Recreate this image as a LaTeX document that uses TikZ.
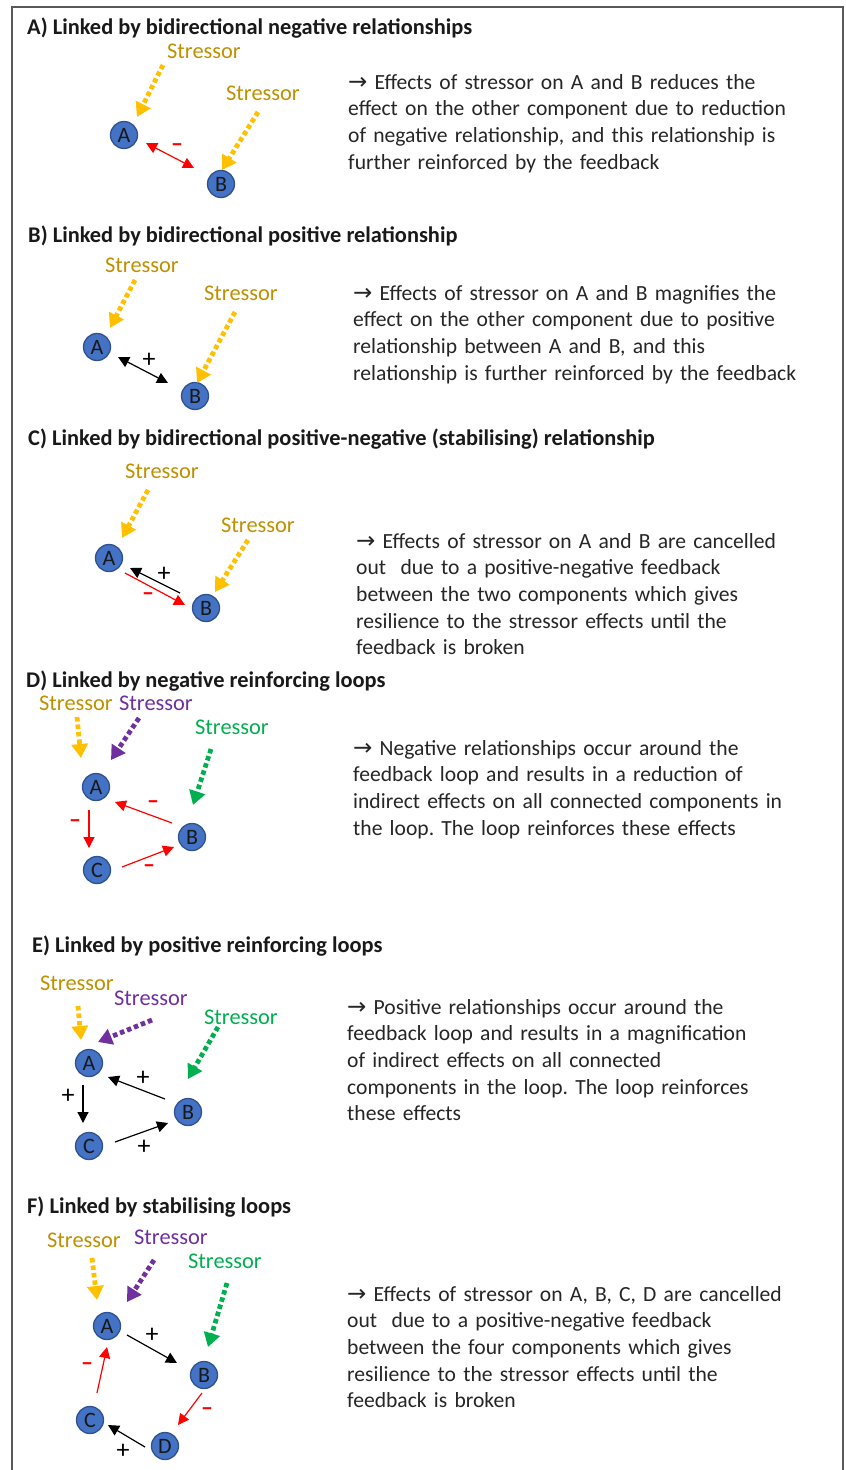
\documentclass[tikz,border=0pt]{standalone}
\usepackage{fontspec}
\setmainfont{Carlito}
\newfontfamily\arrowfont{DejaVu Sans}
\usetikzlibrary{arrows.meta}
\frenchspacing
\definecolor{nodefill}{HTML}{4472C4}
\definecolor{nodeedge}{HTML}{2F528F}
\definecolor{stresstext}{HTML}{BF9000}
\definecolor{stressarrow}{HTML}{FFC000}
\definecolor{purp}{HTML}{7030A0}
\definecolor{grn}{HTML}{00B050}
\definecolor{redc}{HTML}{FF0000}
\definecolor{framegray}{HTML}{595959}
\definecolor{desctext}{HTML}{262626}
\newcommand{\rarr}{{\arrowfont\fontsize{23}{26.7}\selectfont →}}
\tikzset{
  comp/.style={circle, fill=nodefill, draw=nodeedge, line width=1.3pt, minimum size=27pt, inner sep=0pt, font=\fontsize{22}{22}\selectfont, text=black!90},
  head/.style={anchor=base west, inner sep=0pt, font=\fontsize{22.4}{26}\selectfont\bfseries, text=black!90},
  stlab/.style={anchor=base, inner sep=0pt, font=\fontsize{22.4}{26}\selectfont},
  desc/.style={anchor=base west, inner sep=0pt, align=left, text width=490pt, font=\fontsize{21.6}{26.7}\selectfont, text=desctext},
  sarrow/.style={line width=4.8pt, dash pattern=on 4.5pt off 3pt, -{Triangle[length=14pt,width=16pt]}},
  rel/.style={line width=1.2pt, -{Triangle[length=11pt,width=11pt]}},
  relboth/.style={line width=1.2pt, {Triangle[length=11pt,width=11pt]}-{Triangle[length=11pt,width=11pt]}},
  sgn/.style={inner sep=0pt, font=\fontsize{26}{26}\selectfont},
  neg/.style={inner sep=0pt, text=redc, font=\fontsize{24}{24}\selectfont\bfseries},
}
\begin{document}
\begin{tikzpicture}[x=1pt,y=-1pt]
\useasboundingbox (0,0) rectangle (846,1470);
\fill[white] (0,0) rectangle (846,1470);
\draw[framegray, line width=2pt] (12,1480) -- (12,7) -- (843,7) -- (843,1480);

% ---------------- A ----------------
\node[head] (hA) at (27,34) {A) Linked by bidirectional negative relationships};
\node[stlab, text=stresstext] (sA1) at (204,58) {Stressor};
\node[stlab, text=stresstext] (sA2) at (263,100) {Stressor};
\node[comp] (aA) at (124,135) {A};
\node[comp] (aB) at (221,184) {B};
\draw[sarrow, stressarrow] ([shift={(-41,7)}]sA1.base) -- ([shift={(13,-18)}]aA.center);
\draw[sarrow, stressarrow] ([shift={(-5,12)}]sA2.base) -- ([shift={(1,-14)}]aB.center);
\draw[relboth, redc] ([shift={(22,8)}]aA.center) -- ([shift={(-27,-16)}]aB.center);
\node[neg] (nA) at (177,148) {–};
\node[desc] (dA) at (348,89) {\rarr{} Effects of stressor on A and B reduces the\\effect on the other component due to reduction\\of negative relationship, and this relationship is\\further reinforced by the feedback};

% ---------------- B ----------------
\node[head] (hB) at (28,242) {B) Linked by bidirectional positive relationship};
\node[stlab, text=stresstext] (sB1) at (142,272) {Stressor};
\node[stlab, text=stresstext] (sB2) at (241,300) {Stressor};
\node[comp] (bA) at (97,347) {A};
\node[comp] (bB) at (195,396) {B};
\draw[sarrow, stressarrow] ([shift={(-7,8)}]sB1.base) -- ([shift={(13,-19)}]bA.center);
\draw[sarrow, stressarrow] ([shift={(-6,12)}]sB2.base) -- ([shift={(2,-13)}]bB.center);
\draw[relboth, black] ([shift={(21,10)}]bA.center) -- ([shift={(-27,-13)}]bB.center);
\node[sgn] (pB) at (149,360) {+};
\node[desc] (dB) at (353,300) {\rarr{} Effects of stressor on A and B magnifies the\\effect on the other component due to positive\\relationship between A and B, and this\\relationship is further reinforced by the feedback};

% ---------------- C ----------------
\node[head] (hC) at (28,445) {C) Linked by bidirectional positive-negative (stabilising) relationship};
\node[stlab, text=stresstext] (sC1) at (162,478) {Stressor};
\node[stlab, text=stresstext] (sC2) at (258,532) {Stressor};
\node[comp] (cA) at (109,558) {A};
\node[comp] (cB) at (206,608) {B};
\draw[sarrow, stressarrow] ([shift={(-14,12)}]sC1.base) -- ([shift={(13,-20)}]cA.center);
\draw[sarrow, stressarrow] ([shift={(-10,8)}]sC2.base) -- ([shift={(9,-16)}]cB.center);
\draw[rel, black] ([shift={(-26,-15)}]cB.center) -- ([shift={(21,10)}]cA.center);
\draw[rel, redc] ([shift={(16,15)}]cA.center) -- ([shift={(-21,-3)}]cB.center);
\node[sgn] (pC) at (164,574) {+};
\node[neg] (nC) at (148,597) {–};
\node[desc] (dC) at (356,548) {\rarr{} Effects of stressor on A and B are cancelled\\out\ \ due to a positive-negative feedback\\between the two components which gives\\resilience to the stressor effects until the\\feedback is broken};

% ---------------- D ----------------
\node[head] (hD) at (26,687) {D) Linked by negative reinforcing loops};
\node[stlab, text=stresstext] (sDy) at (76,710) {Stressor};
\node[stlab, text=purp] (sDp) at (156,710) {Stressor};
\node[stlab, text=grn] (sDg) at (232,734) {Stressor};
\node[comp] (dA1) at (96,787) {A};
\node[comp] (dB1) at (192,837) {B};
\node[comp] (dC1) at (97,870) {C};
\draw[sarrow, stressarrow] ([shift={(1,7)}]sDy.base) -- ([shift={(-15,-29)}]dA1.center);
\draw[sarrow, purp] ([shift={(-17,8)}]sDp.base) -- ([shift={(15,-27)}]dA1.center);
\draw[sarrow, grn] ([shift={(-21,15)}]sDg.base) -- ([shift={(1,-32)}]dB1.center);
\draw[rel, redc] ([shift={(-20,-14)}]dB1.center) -- ([shift={(19,15)}]dA1.center);
\draw[rel, redc] ([shift={(-7,23)}]dA1.center) -- ([shift={(-8,-22)}]dC1.center);
\draw[rel, redc] ([shift={(25,-3)}]dC1.center) -- ([shift={(-18,10)}]dB1.center);
\node[neg] (nD1) at (153,805) {–};
\node[neg] (nD2) at (75,824) {–};
\node[neg] (nD3) at (149,869) {–};
\node[desc] (dD) at (353,755) {\rarr{} Negative relationships occur around the\\feedback loop and results in a reduction of\\indirect effects on all connected components in\\the loop. The loop reinforces these effects};

% ---------------- E ----------------
\node[head] (hE) at (32,952) {E) Linked by positive reinforcing loops};
\node[stlab, text=stresstext] (sEy) at (77,990) {Stressor};
\node[stlab, text=purp] (sEp) at (151,1005) {Stressor};
\node[stlab, text=grn] (sEg) at (241,1024) {Stressor};
\node[comp] (eA) at (89,1063) {A};
\node[comp] (eB) at (188,1112) {B};
\node[comp] (eC) at (89,1146) {C};
\draw[sarrow, stressarrow] ([shift={(1,16)}]sEy.base) -- ([shift={(-8,-23)}]eA.center);
\draw[sarrow, purp] ([shift={(1,15)}]sEp.base) -- ([shift={(9,-21)}]eA.center);
\draw[sarrow, grn] ([shift={(-23,3)}]sEg.base) -- ([shift={(0,-33)}]eB.center);
\draw[rel, black] ([shift={(-23,-13)}]eB.center) -- ([shift={(19,14)}]eA.center);
\draw[rel, black] ([shift={(-6,22)}]eA.center) -- ([shift={(-6,-23)}]eC.center);
\draw[rel, black] ([shift={(26,-4)}]eC.center) -- ([shift={(-20,11)}]eB.center);
\node[sgn] (pE1) at (143,1078) {+};
\node[sgn] (pE2) at (68,1096) {+};
\node[sgn] (pE3) at (144,1147) {+};
\node[desc] (dE) at (347,1014) {\rarr{} Positive relationships occur around the\\feedback loop and results in a magnification\\of indirect effects on all connected\\components in the loop. The loop reinforces\\these effects};

% ---------------- F ----------------
\node[head] (hF) at (27,1213) {F) Linked by stabilising loops};
\node[stlab, text=stresstext] (sFy) at (84,1247) {Stressor};
\node[stlab, text=purp] (sFp) at (171,1244) {Stressor};
\node[stlab, text=grn] (sFg) at (225,1268) {Stressor};
\node[comp] (fA) at (107,1326) {A};
\node[comp] (fB) at (204,1375) {B};
\node[comp] (fC) at (90,1420) {C};
\node[comp] (fD) at (165,1446) {D};
\draw[sarrow, stressarrow] ([shift={(8,11)}]sFy.base) -- ([shift={(-10,-26)}]fA.center);
\draw[sarrow, purp] ([shift={(-17,16)}]sFp.base) -- ([shift={(20,-24)}]fA.center);
\draw[sarrow, grn] ([shift={(2,15)}]sFg.base) -- ([shift={(4,-28)}]fB.center);
\draw[rel, black] ([shift={(20,9)}]fA.center) -- ([shift={(-27,-12)}]fB.center);
\draw[rel, redc] ([shift={(-2,18)}]fB.center) -- ([shift={(13,-21)}]fD.center);
\draw[rel, black] ([shift={(-20,1)}]fD.center) -- ([shift={(18,5)}]fC.center);
\draw[rel, redc] ([shift={(7,-27)}]fC.center) -- ([shift={(0,21)}]fA.center);
\node[sgn] (pF1) at (152,1335) {+};
\node[neg] (nF1) at (207,1412) {–};
\node[sgn] (pF2) at (123,1451) {+};
\node[neg] (nF2) at (87,1367) {–};
\node[desc] (dF) at (347,1301) {\rarr{} Effects of stressor on A, B, C, D are cancelled\\out\ \ due to a positive-negative feedback\\between the four components which gives\\resilience to the stressor effects until the\\feedback is broken};
\end{tikzpicture}
\end{document}
